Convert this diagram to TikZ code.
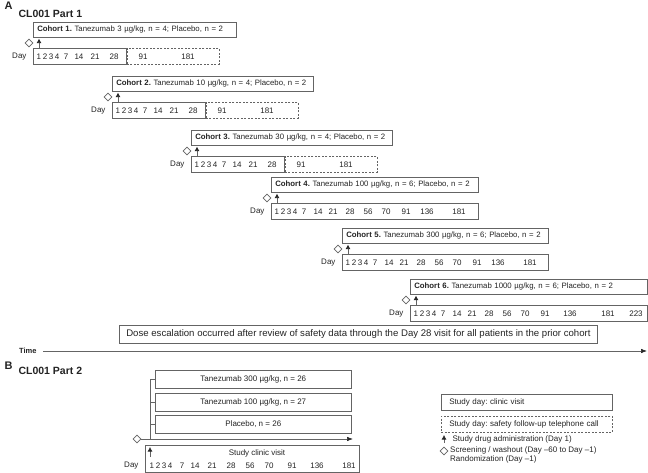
\documentclass[tikz,border=0pt]{standalone}
\usepackage{fontspec}
\setmainfont{Liberation Sans}
\usetikzlibrary{arrows.meta}
\usetikzlibrary{shapes.geometric}
\usetikzlibrary{calc}
\definecolor{linegray}{RGB}{100,100,100}
\definecolor{txtgray}{RGB}{35,35,35}
\newcommand{\boxfont}{\fontsize{8}{9}\selectfont\frenchspacing}
\newcommand{\cohfont}{\fontsize{7.8}{9}\selectfont\frenchspacing}
\newcommand{\headfont}{\fontsize{10.5}{12}\selectfont\bfseries}
\newcommand{\daynums}{1\hspace{1.6pt}2\hspace{1.6pt}3\hspace{1.6pt}4}
\tikzset{
  every node/.style={text=txtgray, font=\boxfont},
  hdr/.style={draw=linegray, line width=0.6pt, anchor=north west, minimum height=15pt, inner xsep=4pt, inner ysep=0pt, text width=#1, align=left, font=\cohfont},
  daybox/.style={draw=linegray, line width=0.6pt, anchor=north west, minimum height=16pt, minimum width=#1, inner sep=0pt},
  fupbox/.style={draw=linegray, dash pattern=on 2pt off 1.5pt, line width=0.6pt, anchor=north west, minimum height=16pt, minimum width=#1, inner sep=0pt},
  armbox/.style={draw=linegray, line width=0.6pt, anchor=north west, minimum height=18pt, minimum width=196pt, inner sep=0pt},
  diam/.style={draw=linegray, fill=white, diamond, minimum size=8pt, inner sep=0pt, line width=0.6pt},
  adm/.style={draw=linegray, line width=0.7pt, -{Latex[length=4.5pt,width=5pt,color=black!85]}},
  tl/.style={draw=linegray, line width=0.6pt, -{Latex[length=6pt,width=4.5pt,color=black!85]}},
  num/.style={inner sep=0pt},
}

\begin{document}
\begin{tikzpicture}[x=1pt, y=-1pt]
  \useasboundingbox (0,0) rectangle (648,473);
  \node[anchor=west, font=\fontsize{11}{12}\selectfont\bfseries] (labA) at (1,6) {A};
  \node[anchor=west, font=\headfont] (ttl1) at (15,14) {CL001 Part 1};

  \node[hdr=195pt] (h1) at (33,22) {\textbf{Cohort 1.} Tanezumab 3 µg/kg, n = 4; Placebo, n = 2};
  \node[daybox=93pt] (d1) at (33,48) {};
  \node[fupbox=92pt] (f1) at (d1.north east) {};
  \node[anchor=east] (l1) at ([xshift=-3pt]d1.west) {Day};
  \node[diam] (s1) at (29,43) {};
  \draw[adm] ([xshift=6pt]d1.north west) -- ([xshift=6pt,yshift=-1pt]h1.south west);
  \foreach \o/\t in {15/\daynums,33/7,46/14,62/21,81/28,110/91,155/181}
    \node[num] (n1-\o) at ([xshift=\o pt]d1.west) {\t};

  \node[hdr=193pt] (h2) at (112,76) {\textbf{Cohort 2.} Tanezumab 10 µg/kg, n = 4; Placebo, n = 2};
  \node[daybox=93pt] (d2) at (112,102) {};
  \node[fupbox=92pt] (f2) at (d2.north east) {};
  \node[anchor=east] (l2) at ([xshift=-3pt]d2.west) {Day};
  \node[diam] (s2) at (108,97) {};
  \draw[adm] ([xshift=6pt]d2.north west) -- ([xshift=6pt,yshift=-1pt]h2.south west);
  \foreach \o/\t in {15/\daynums,33/7,46/14,62/21,81/28,110/91,155/181}
    \node[num] (n2-\o) at ([xshift=\o pt]d2.west) {\t};

  \node[hdr=193pt] (h3) at (191,130) {\textbf{Cohort 3.} Tanezumab 30 µg/kg, n = 4; Placebo, n = 2};
  \node[daybox=93pt] (d3) at (191,156) {};
  \node[fupbox=92pt] (f3) at (d3.north east) {};
  \node[anchor=east] (l3) at ([xshift=-3pt]d3.west) {Day};
  \node[diam] (s3) at (187,151) {};
  \draw[adm] ([xshift=6pt]d3.north west) -- ([xshift=6pt,yshift=-1pt]h3.south west);
  \foreach \o/\t in {15/\daynums,33/7,46/14,62/21,81/28,110/91,155/181}
    \node[num] (n3-\o) at ([xshift=\o pt]d3.west) {\t};

  \node[hdr=199pt] (h4) at (271,177) {\textbf{Cohort 4.} Tanezumab 100 µg/kg, n = 6; Placebo, n = 2};
  \node[daybox=207pt] (d4) at (271,203) {};
  \node[anchor=east] (l4) at ([xshift=-3pt]d4.west) {Day};
  \node[diam] (s4) at (267,198) {};
  \draw[adm] ([xshift=6pt]d4.north west) -- ([xshift=6pt,yshift=-1pt]h4.south west);
  \foreach \o/\t in {15/\daynums,33/7,47/14,62/21,79/28,97/56,115/70,135/91,156/136,188/181}
    \node[num] (n4-\o) at ([xshift=\o pt]d4.west) {\t};

  \node[hdr=198pt] (h5) at (342,228) {\textbf{Cohort 5.} Tanezumab 300 µg/kg, n = 6; Placebo, n = 2};
  \node[daybox=206pt] (d5) at (342,254) {};
  \node[anchor=east] (l5) at ([xshift=-3pt]d5.west) {Day};
  \node[diam] (s5) at (338,249) {};
  \draw[adm] ([xshift=6pt]d5.north west) -- ([xshift=6pt,yshift=-1pt]h5.south west);
  \foreach \o/\t in {15/\daynums,33/7,47/14,62/21,79/28,97/56,115/70,135/91,156/136,188/181}
    \node[num] (n5-\o) at ([xshift=\o pt]d5.west) {\t};

  \node[hdr=229pt] (h6) at (410,279) {\textbf{Cohort 6.} Tanezumab 1000 µg/kg, n = 6; Placebo, n = 2};
  \node[daybox=237pt] (d6) at (410,305) {};
  \node[anchor=east] (l6) at ([xshift=-3pt]d6.west) {Day};
  \node[diam] (s6) at (406,300) {};
  \draw[adm] ([xshift=6pt]d6.north west) -- ([xshift=6pt,yshift=-1pt]h6.south west);
  \foreach \o/\t in {15/\daynums,33/7,47/14,62/21,79/28,97/56,115/70,135/91,160/136,198/181,226/223}
    \node[num] (n6-\o) at ([xshift=\o pt]d6.west) {\t};

  \node[draw=linegray, line width=0.6pt, anchor=west, minimum height=18pt, inner xsep=7pt, font=\fontsize{9.6}{11}\selectfont] (dose) at (119,334) {Dose escalation occurred after review of safety data through the Day 28 visit for all patients in the prior cohort};
  \node[anchor=east, font=\fontsize{7.5}{9}\selectfont\bfseries] (time) at (40,351) {Time};
  \coordinate (tend) at (647,351);
  \draw[tl] ([xshift=3pt]time.east) -- (tend);

  \node[anchor=west, font=\fontsize{11}{12}\selectfont\bfseries] (labB) at (1,366) {B};
  \node[anchor=west, font=\headfont] (ttl2) at (15,371) {CL001 Part 2};
  \node[armbox] (p1) at (155,370) {Tanezumab 300 µg/kg, n = 26};
  \node[armbox] (p2) at (155,393) {Tanezumab 100 µg/kg, n = 27};
  \node[armbox] (p3) at (155,415) {Placebo, n = 26};
  \coordinate (br) at (150,439);
  \draw[linegray, line width=0.6pt] (p1.west) -- (p1.west -| br) -- (br);
  \draw[linegray, line width=0.6pt] (p2.west) -- (p2.west -| br);
  \draw[linegray, line width=0.6pt] (p3.west) -- (p3.west -| br);
  \node[diam] (s7) at (137,439) {};
  \coordinate (aend) at (353,439);
  \draw[tl] (s7.east) -- (aend);
  \node[daybox=214pt, minimum height=27pt] (d7) at (145,445) {};
  \node (cv) at (257,453) {Study clinic visit};
  \node[anchor=east] (l7) at ([xshift=-3pt,yshift=-6.5pt]d7.west) {Day};
  \draw[adm] ([xshift=5pt,yshift=-12pt]d7.north west) -- ([xshift=5pt,yshift=-2pt]d7.north west);
  \foreach \o/\t in {16/\daynums,37/7,50/14,67/21,86/28,105/56,124/70,147/91,172/136,204/181}
    \node[num] (n7-\o) at ([xshift=\o pt,yshift=-6.5pt]d7.west) {\t};

  \node[hdr=163pt, minimum height=16pt, font=\boxfont] (k1) at (441,394) {\hspace{4pt}Study day: clinic visit};
  \node[hdr=163pt, minimum height=16pt, font=\boxfont, dash pattern=on 2pt off 1.5pt] (k2) at (441,416) {\hspace{4pt}Study day: safety follow-up telephone call};
  \node[anchor=west] (k3) at (449,439) {Study drug administration (Day 1)};
  \draw[adm] ([xshift=-5pt,yshift=-4pt]k3.west) -- ([xshift=-5pt,yshift=4pt]k3.west);
  \node[diam] (k4d) at (444,451) {};
  \node[anchor=north west, align=left, inner sep=0pt] (k4) at (450,447) {Screening / washout (Day –60 to Day –1)\\Randomization (Day –1)};
\end{tikzpicture}
\end{document}
